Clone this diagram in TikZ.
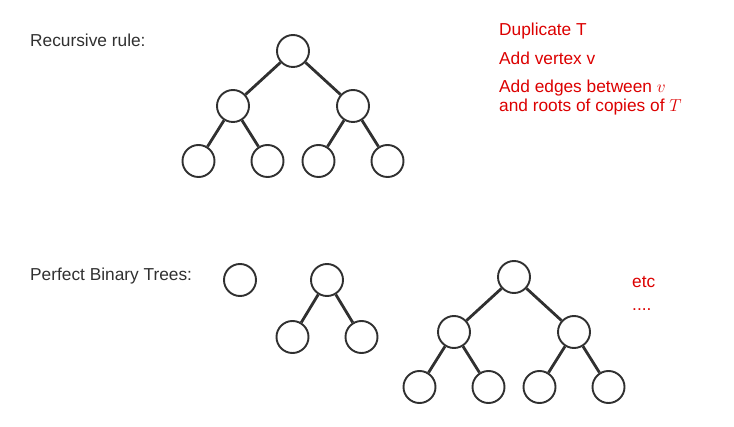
\documentclass[tikz,border=0pt]{standalone}
\usepackage{amsmath}
\usepackage{fontspec}
\setmainfont{Liberation Sans}
\usetikzlibrary{trees}
\definecolor{inkgray}{RGB}{48,48,48}
\definecolor{notered}{RGB}{220,0,0}

\begin{document}
\begin{tikzpicture}[x=1pt,y=-1pt,
  vertex/.style={circle,draw=inkgray,line width=1.9pt,minimum size=32pt,inner sep=0pt},
  every child node/.style={vertex},
  edge from parent/.style={draw=inkgray,line width=2.8pt},
  caption/.style={anchor=base west,inner sep=0pt,text=inkgray,font=\fontsize{17.3}{19}\selectfont},
  note/.style={caption,text=notered},
	level distance=55pt,
	level 1/.style={sibling distance=120pt},level 2/.style={sibling distance=69pt}
]
\useasboundingbox (0,0) rectangle (734,427);

% recursive rule
\node[caption] (rec-label) at (30,47) {Recursive rule:};
\node[vertex] (rec) at (293,51) {}
child {node (rec-l) {}
	child {node (rec-ll) {}}
	child {node (rec-lr) {}}
}
child {node (rec-r) {}
	child {node (rec-rl) {}}
	child {node (rec-rr) {}}
}
;
\node[note] (dup) at (499,36) {Duplicate T};
\node[note] (addv) at (499,65) {Add vertex v};
\node[note,align=left] (adde) at (499,112) {Add edges between $v$\\and roots of copies of $T$};

% perfect binary trees
\node[caption] (pbt-label) at (30,281) {Perfect Binary Trees:};
\node[vertex] (one) at (240,280) {};
\begin{scope}[level 1/.style={sibling distance=69pt},level distance=57pt]
\node[vertex] (two) at (327,280) {}
child {node (two-l) {}}
child {node (two-r) {}}
;
\end{scope}
\node[vertex] (three) at (514,277) {}
child {node (three-l) {}
	child {node (three-ll) {}}
	child {node (three-lr) {}}
}
child {node (three-r) {}
	child {node (three-rl) {}}
	child {node (three-rr) {}}
}
;
\node[note] (etc) at (632,288) {etc};
\node[note] (dots) at (632,311) {....};
\end{tikzpicture}
\end{document}
